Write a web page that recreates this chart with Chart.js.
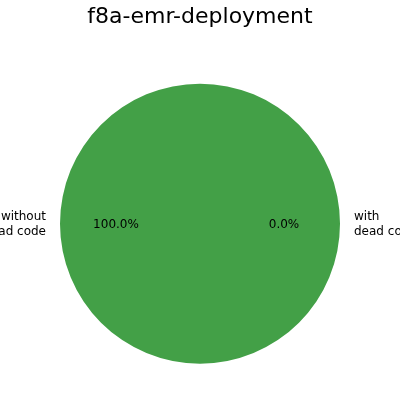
<!DOCTYPE html>
<html><head><meta charset="utf-8">
<script src="https://cdn.jsdelivr.net/npm/chart.js@4"></script>
<style>html,body{margin:0;padding:0;background:#fff}#w{width:400px;height:400px}</style>
</head><body><div id="w"><canvas id="c"></canvas></div>
<script>
const titleText = "f8a-emr-deployment";
const categories = [["without", "dead code"], ["with", "dead code"]];
const values = [100, 0];
const colors = ["#43a047", "#e53935"];

const pieLabels = {
  id: "pieLabels",
  afterDatasetsDraw(chart) {
    const ctx = chart.ctx;
    const meta = chart.getDatasetMeta(0);
    const total = values.reduce((a, b) => a + b, 0);
    ctx.save();
    ctx.font = "12px 'DejaVu Sans'";
    ctx.fillStyle = "#000";
    meta.data.forEach((arc, i) => {
      const p = arc.getProps(["x", "y", "startAngle", "endAngle", "outerRadius"], true);
      const mid = (p.startAngle + p.endAngle) / 2;
      const cx = Math.cos(mid), cy = Math.sin(mid);
      const r = p.outerRadius;
      ctx.textAlign = "center";
      ctx.textBaseline = "middle";
      const pct = (values[i] / total * 100).toFixed(1) + "%";
      ctx.fillText(pct, p.x + cx * r * 0.6, p.y + cy * r * 0.6 + 1.5);
      const lx = p.x + cx * r * 1.1, ly = p.y + cy * r * 1.1;
      ctx.textAlign = lx < p.x - 1 ? "right" : "left";
      const lines = categories[i];
      const lh = 15;
      lines.forEach((ln, k) => {
        ctx.fillText(ln, lx, ly + 1 + (k - (lines.length - 1) / 2) * lh);
      });
    });
    ctx.restore();
  }
};

new Chart(document.getElementById("c"), {
  type: "pie",
  data: {
    labels: categories.map(l => l.join(" ")),
    datasets: [{ data: values, backgroundColor: colors, borderWidth: 0 }]
  },
  options: {
    responsive: true,
    maintainAspectRatio: false,
    animation: false,
    rotation: 90,
    layout: { padding: { left: 60, right: 60, top: 0, bottom: 36 } },
    plugins: {
      legend: { display: false },
      tooltip: { enabled: false },
      title: {
        display: true,
        text: titleText,
        color: "#000",
        font: { family: "'DejaVu Sans'", size: 22, weight: "normal" },
        padding: { top: 4, bottom: 53 }
      }
    }
  },
  plugins: [pieLabels]
});
</script>
</body></html>
